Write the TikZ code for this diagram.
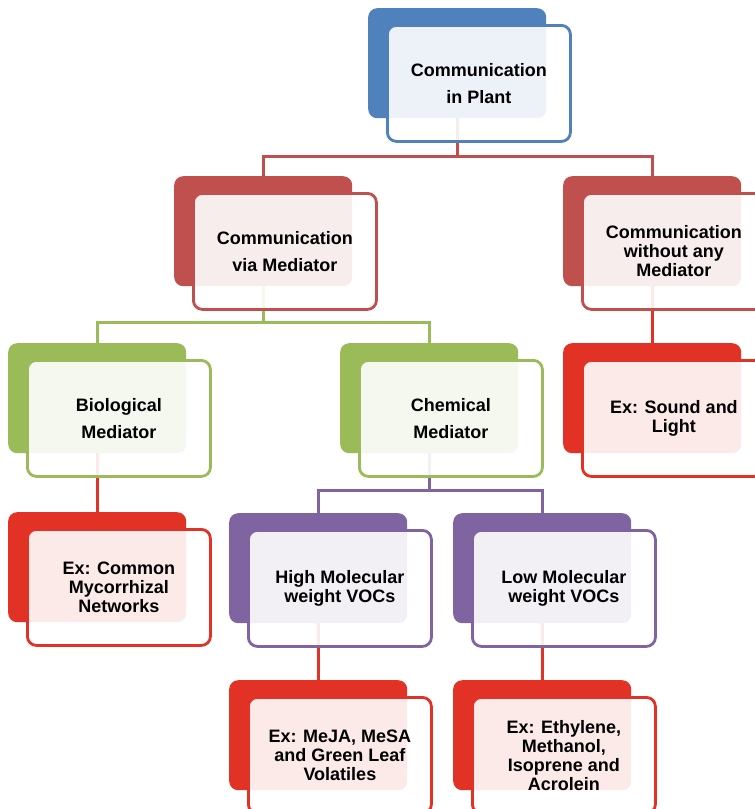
\documentclass[tikz,border=0pt]{standalone}
\usepackage{fontspec}
\setmainfont{Liberation Sans}
\definecolor{cblue}{HTML}{4F81BD}
\definecolor{cred}{HTML}{C0504D}
\definecolor{cgreen}{HTML}{9BBB59}
\definecolor{cpurple}{HTML}{8064A2}
\definecolor{cbright}{RGB}{226,49,37}
\begin{document}
\begin{tikzpicture}[
  x=1pt, y=-1pt,
  backbox/.style={rectangle, rounded corners=9pt, fill=#1, minimum width=178pt, minimum height=110pt, anchor=north west, inner sep=0pt},
  frontbox/.style={rectangle, rounded corners=9pt, draw=#1, line width=2.8pt, fill=white, fill opacity=0.9, text opacity=1, minimum width=183pt, minimum height=116pt, anchor=north west, align=center, font=\fontsize{18}{19}\selectfont\bfseries},
  loose/.style={font=\fontsize{18}{27}\selectfont\bfseries},
  link/.style={draw=#1, line width=2.8pt}
]
\clip (0,0) rectangle (755,809);

% back tiles
\node[backbox=cblue] (top-b) at (368,8) {};
\node[backbox=cred] (via-b) at (174,176) {};
\node[backbox=cred] (without-b) at (563,176) {};
\node[backbox=cgreen] (bio-b) at (8,343) {};
\node[backbox=cgreen] (chem-b) at (340,343) {};
\node[backbox=cbright] (sound-b) at (563,343) {};
\node[backbox=cbright] (myco-b) at (8,512) {};
\node[backbox=cpurple] (high-b) at (229,513) {};
\node[backbox=cpurple] (low-b) at (453,513) {};
\node[backbox=cbright] (meja-b) at (229,680) {};
\node[backbox=cbright] (ethyl-b) at (453,680) {};

% connectors
\draw[link=cred] (top-b.south) -- ++(0,38) -| (via-b.north);
\draw[link=cred] (top-b.south) -- ++(0,38) -| (without-b.north);
\draw[link=cgreen] (via-b.south) -- ++(0,36) -| (bio-b.north);
\draw[link=cgreen] (via-b.south) -- ++(0,36) -| (chem-b.north);
\draw[link=cbright] (without-b.south) -- (sound-b.north);
\draw[link=cbright] (bio-b.south) -- (myco-b.north);
\draw[link=cpurple] (chem-b.south) -- ++(0,37) -| (high-b.north);
\draw[link=cpurple] (chem-b.south) -- ++(0,37) -| (low-b.north);
\draw[link=cbright] (high-b.south) -- (meja-b.north);
\draw[link=cbright] (low-b.south) -- (ethyl-b.north);

% front boxes
\node[frontbox=cblue, loose] (top) at ([shift={(18,16)}]top-b.north west) {Communication\\in Plant};
\node[frontbox=cred, loose] (via) at ([shift={(18,16)}]via-b.north west) {Communication\\via Mediator};
\node[frontbox=cred] (without) at ([shift={(18,16)}]without-b.north west) {Communication\\without any\\Mediator};
\node[frontbox=cgreen, loose] (bio) at ([shift={(18,16)}]bio-b.north west) {Biological\\Mediator};
\node[frontbox=cgreen, loose] (chem) at ([shift={(18,16)}]chem-b.north west) {Chemical\\Mediator};
\node[frontbox=cbright] (sound) at ([shift={(18,16)}]sound-b.north west) {Ex: Sound and\\Light};
\node[frontbox=cbright] (myco) at ([shift={(18,16)}]myco-b.north west) {Ex: Common\\Mycorrhizal\\Networks};
\node[frontbox=cpurple] (high) at ([shift={(18,16)}]high-b.north west) {High Molecular\\weight VOCs};
\node[frontbox=cpurple] (low) at ([shift={(18,16)}]low-b.north west) {Low Molecular\\weight VOCs};
\node[frontbox=cbright] (meja) at ([shift={(18,16)}]meja-b.north west) {Ex: MeJA, MeSA\\and Green Leaf\\Volatiles};
\node[frontbox=cbright] (ethyl) at ([shift={(18,16)}]ethyl-b.north west) {Ex: Ethylene,\\Methanol,\\Isoprene and\\Acrolein};
\end{tikzpicture}
\end{document}
